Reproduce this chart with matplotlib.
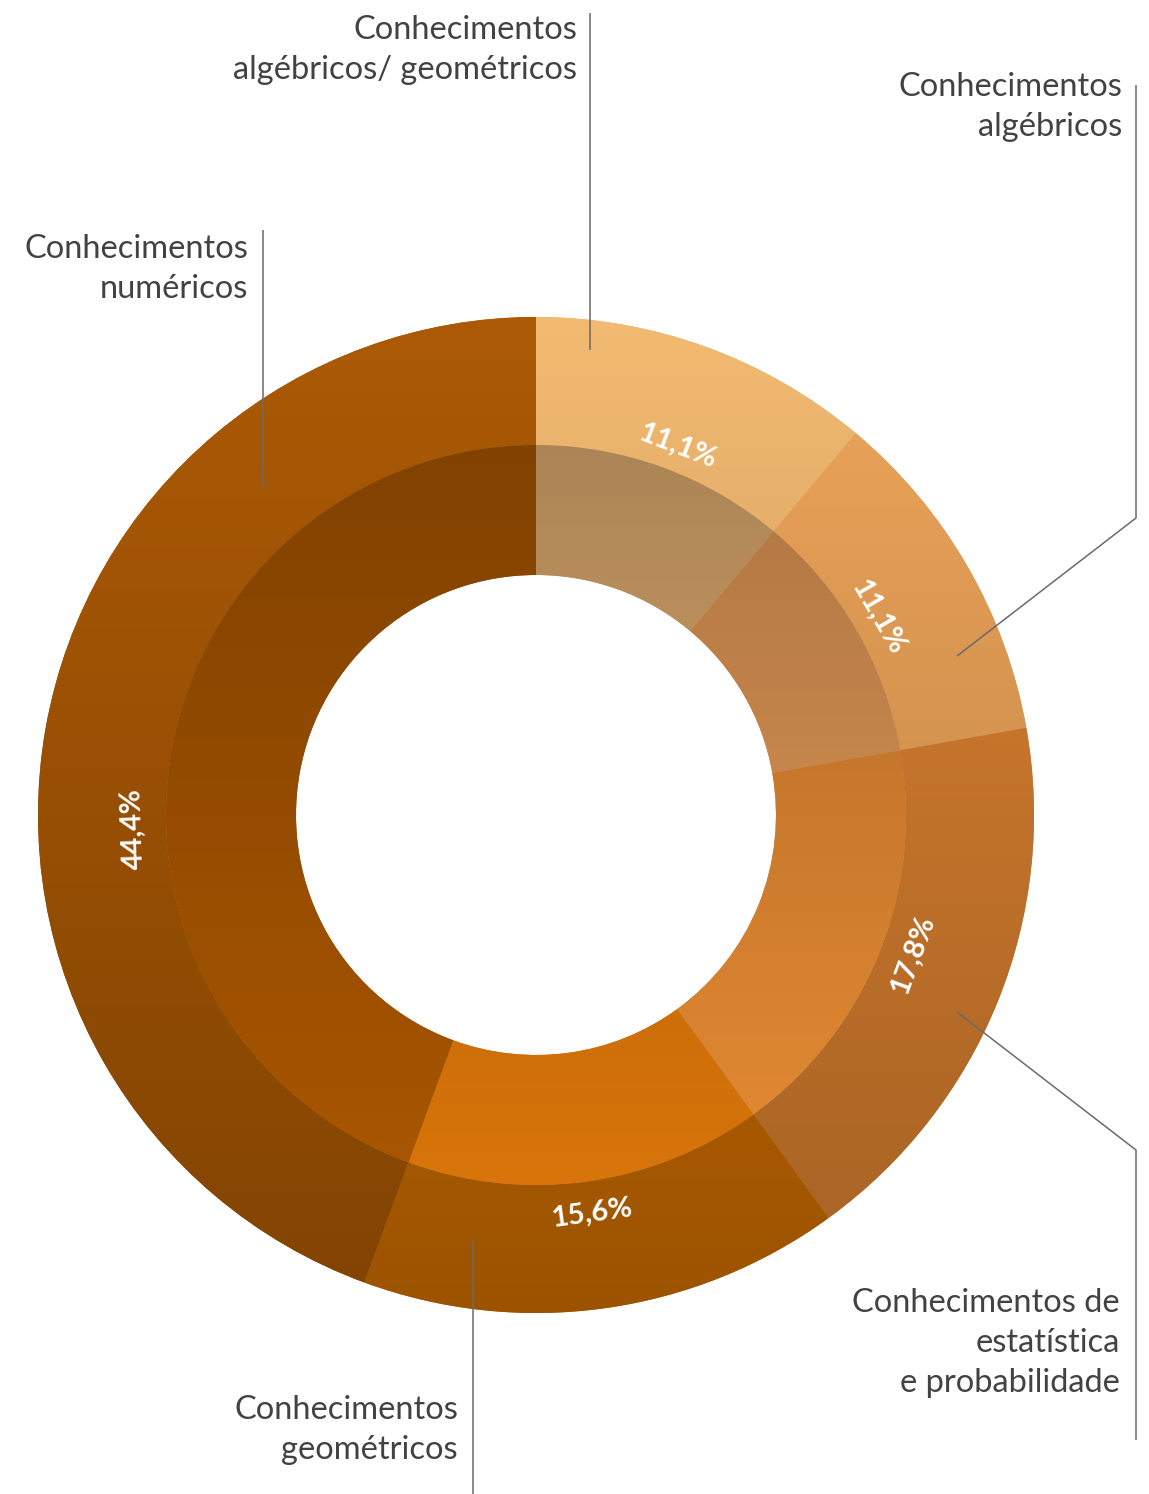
import numpy as np
import matplotlib.pyplot as plt
from matplotlib.colors import to_rgb

# distribuição das questões por unidade temática (sentido horário a partir do topo)
categorias = [
    'Conhecimentos\nalgébricos/ geométricos',
    'Conhecimentos\nalgébricos',
    'Conhecimentos de\nestatística\ne probabilidade',
    'Conhecimentos\ngeométricos',
    'Conhecimentos\nnuméricos',
]
percentuais = [11.1, 11.1, 17.8, 15.6, 44.4]
rotulos = ['11,1%', '11,1%', '17,8%', '15,6%', '44,4%']

# cores de base do anel externo e do anel interno
cores_externas = ['#D5A363', '#D1914F', '#C1722A', '#B66100', '#974F04']
cores_internas = ['#C79963', '#C9884D', '#CA7A2D', '#BF6709', '#954C00']

LARGURA, ALTURA = 1149, 1494
CX, CY = 536, ALTURA - 815
R_EXT, R_MEIO, R_FURO = 498, 370, 240


def px(x, y):
    # coordenadas em pixels da imagem (y para baixo) -> eixo (y para cima)
    return x, ALTURA - y


fig = plt.figure(figsize=(LARGURA / 100, ALTURA / 100), dpi=100)
ax = fig.add_axes([0, 0, 1, 1])

aneis = []
for raio, largura, cores, sinal, k in [
    (R_EXT, R_EXT - R_MEIO, cores_externas, 1, 0.14),
    (R_MEIO, R_MEIO - R_FURO, cores_internas, -1, 0.18),
]:
    fatias, _ = ax.pie(percentuais, colors=cores, radius=raio, center=(CX, CY),
                       startangle=90, counterclock=False,
                       wedgeprops=dict(width=largura, linewidth=0))
    aneis.append((fatias, cores, sinal, k))

# degradê vertical: anel externo claro em cima, interno claro embaixo
ys = np.linspace(-1, 1, 400)
for fatias, cores, sinal, k in aneis:
    for fatia, cor in zip(fatias, cores):
        fator = 1 + sinal * k * ys
        img = np.clip(np.array(to_rgb(cor))[None, :] * fator[:, None], 0, 1)
        img = np.repeat(img[:, None, :], 4, axis=1)
        im = ax.imshow(img, origin='lower', aspect='auto', interpolation='bilinear',
                       extent=(CX - R_EXT, CX + R_EXT, CY - R_EXT, CY + R_EXT),
                       zorder=2)
        im.set_clip_path(fatia)

# percentuais escritos ao longo do anel
desvio = [1, 0, -1.6, 0, -12]
raio_rot = [395, 395, 402, 402, 403]
acum = np.cumsum([0] + percentuais)
for i, txt in enumerate(rotulos):
    ang = (acum[i] + percentuais[i] / 2) / 100 * 360 + desvio[i]
    t = np.radians(ang)
    x = CX + raio_rot[i] * np.sin(t)
    y = CY + raio_rot[i] * np.cos(t)
    rot = (-ang) % 180
    if rot > 100:
        rot -= 180
    ax.text(x, y, txt, color='white', fontsize=21, fontweight='bold',
            family='Lato', rotation=rot, rotation_mode='anchor',
            ha='center', va='center', zorder=5)

# textos das categorias (alinhados à direita)
pos_textos = [(577, 50), (1122, 107), (1120, 1343), (458, 1430), (248, 269)]
for cat, (x, y) in zip(categorias, pos_textos):
    ax.text(*px(x, y), cat, fontsize=23.5, color='#424242', family='Lato',
            ha='right', va='center', linespacing=1.4, zorder=5)

# linhas de chamada
chamadas = [
    [(590, 13), (590, 350)],
    [(1136, 85), (1136, 518), (957, 656)],
    [(1136, 1440), (1136, 1150), (957, 1012)],
    [(473, 1494), (473, 1240)],
    [(263, 230), (263, 487)],
]
for pontos in chamadas:
    xs, ys_ = zip(*[px(x, y) for x, y in pontos])
    ax.plot(xs, ys_, color='#6a6a6a', lw=1.1, zorder=4, solid_capstyle='butt')

ax.set_xlim(0, LARGURA)
ax.set_ylim(0, ALTURA)
ax.axis('off')
fig.savefig('out.png', dpi=100, facecolor='white')
